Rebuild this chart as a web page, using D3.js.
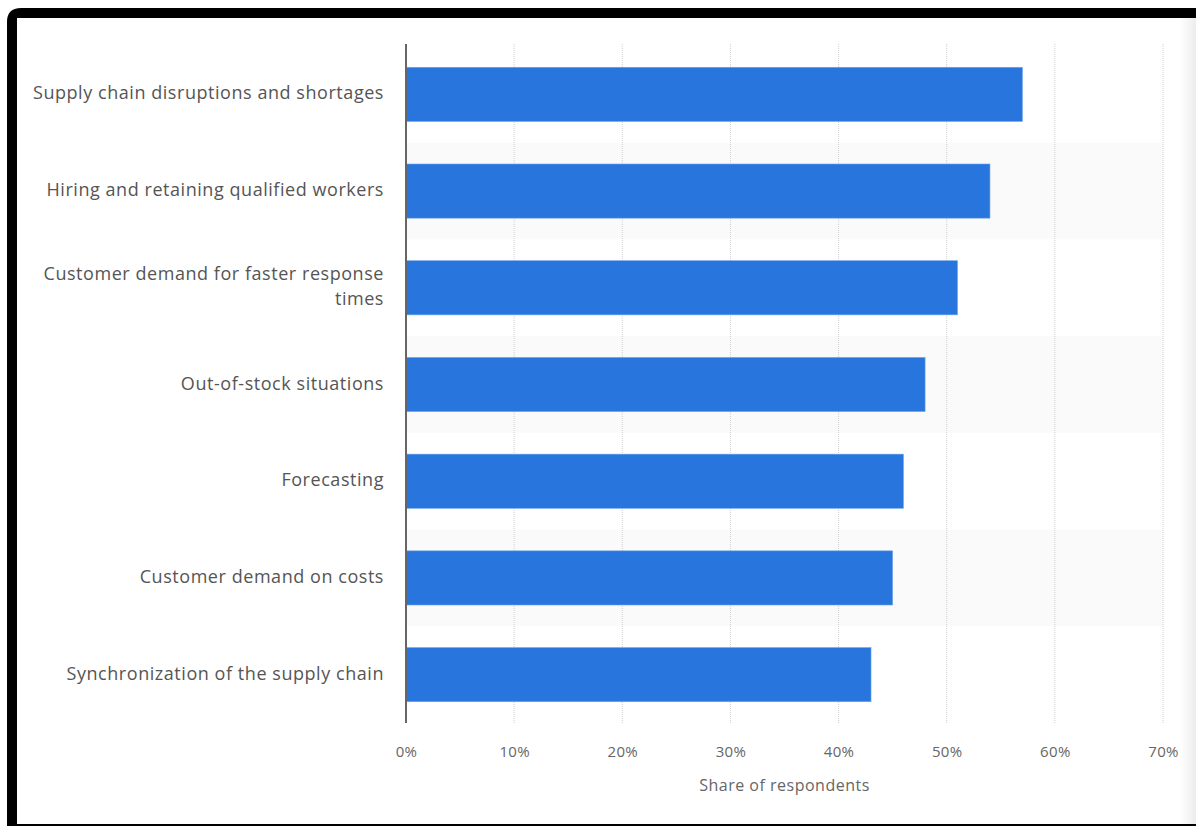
<!DOCTYPE html>
<html>
<head>
<meta charset="utf-8">
<script src="https://cdn.jsdelivr.net/npm/d3@7"></script>
<style>
  body { margin: 0; background: #fff; }
  svg { display: block; }
</style>
</head>
<body>
<div id="chart"></div>
<script>
const categories = [
  "Supply chain disruptions and shortages",
  "Hiring and retaining qualified workers",
  "Customer demand for faster response times",
  "Out-of-stock situations",
  "Forecasting",
  "Customer demand on costs",
  "Synchronization of the supply chain"
];
const shares = [57, 54, 51, 48, 46, 45, 43];
const tickValues = [0, 10, 20, 30, 40, 50, 60, 70];

const width = 1196, height = 826;
const margin = {top: 46, right: 33, bottom: 103, left: 406};

let svg = d3.select("#chart")
    .append("svg")
    .attr("width", width)
    .attr("height", height);

// soft grey edge on the right of the screenshot
let grad = svg.append("defs").append("linearGradient")
    .attr("id", "edge").attr("x1", 0).attr("x2", 1).attr("y1", 0).attr("y2", 0);
grad.append("stop").attr("offset", "0%").attr("stop-color", "#fff");
grad.append("stop").attr("offset", "100%").attr("stop-color", "#ececec");
svg.append("rect")
    .attr("x", 1180).attr("y", 18).attr("width", 16).attr("height", 806)
    .attr("fill", "url(#edge)");

// black frame round the screenshot
svg.append("path")
    .attr("d", "M7,826 L7,22 Q7,8 21,8 L1196,8 L1196,18 L17,18 L17,824 L1196,824 L1196,826 Z")
    .attr("fill", "#000");

let data = categories.map((c, i) => ({label: c, value: shares[i]}));

let g = svg.append("g")
    .attr("transform", `translate(${margin.left},${margin.top})`);

let plotH = height - margin.top - margin.bottom;

let x = d3.scaleLinear()
    .domain([0, 70])
    .range([0, 757]);

let y = d3.scaleBand()
    .domain(categories)
    .range([0, plotH])
    .paddingInner(0.44)
    .paddingOuter(0.22);

let rowBand = d3.scaleBand()
    .domain(categories)
    .range([0, plotH]);

// alternating row shading
g.selectAll("rect.band")
    .data(data.filter((d, i) => i % 2 === 1))
    .enter()
    .append("rect")
    .attr("class", "band")
    .attr("x", 0)
    .attr("y", d => rowBand(d.label))
    .attr("width", x(70))
    .attr("height", rowBand.bandwidth())
    .attr("fill", "#fafafa");

// dotted grid lines
g.selectAll("line.grid")
    .data(tickValues.slice(1))
    .enter()
    .append("line")
    .attr("class", "grid")
    .attr("x1", d => x(d)).attr("x2", d => x(d))
    .attr("y1", -2).attr("y2", plotH)
    .attr("stroke", "#d0d0d0")
    .attr("stroke-width", 1)
    .attr("stroke-dasharray", "1,1");

g.selectAll("rect.bar")
    .data(data)
    .enter()
    .append("rect")
    .attr("class", "bar")
    .attr("x", x(0))
    .attr("y", d => y(d.label))
    .attr("width", d => x(d.value))
    .attr("height", y.bandwidth())
    .attr("fill", "#2876dd")
    .attr("stroke", "#6ea4ea")
    .attr("stroke-width", 0.6);

// axis line
g.append("line")
    .attr("x1", 0).attr("x2", 0)
    .attr("y1", -2).attr("y2", plotH)
    .attr("stroke", "#666")
    .attr("stroke-width", 2);

// category labels (wrapped)
let labels = g.selectAll("text.cat")
    .data(data)
    .enter()
    .append("text")
    .attr("class", "cat")
    .attr("x", -22)
    .attr("y", d => y(d.label) + y.bandwidth() / 2)
    .style("text-anchor", "end")
    .style("font-family", "'Open Sans', sans-serif")
    .style("font-size", "18px")
    .style("letter-spacing", "0.55px")
    .style("fill", "#555");

labels.each(function(d) {
    let t = d3.select(this);
    let lines = d.label === "Customer demand for faster response times"
        ? ["Customer demand for faster response", "times"] : [d.label];
    let offset = -(lines.length - 1) * 12.5;
    lines.forEach((ln, i) => {
        t.append("tspan")
            .attr("x", -22)
            .attr("dy", i === 0 ? offset + 5 : 25)
            .text(ln);
    });
});

// x axis tick labels
let xAxis = g.append("g")
    .attr("transform", `translate(0,${plotH})`)
    .call(d3.axisBottom(x).tickValues(tickValues).tickSize(0).tickPadding(23)
        .tickFormat(d => d + "%"));
xAxis.select(".domain").remove();
xAxis.selectAll("text")
    .style("font-family", "'Open Sans', sans-serif")
    .style("font-size", "15px")
    .style("letter-spacing", "0.3px")
    .style("fill", "#666");

g.append("text")
    .attr("x", x(35))
    .attr("y", plotH + 68)
    .style("text-anchor", "middle")
    .style("font-family", "'Open Sans', sans-serif")
    .style("font-size", "16px")
    .style("letter-spacing", "0.5px")
    .style("fill", "#666")
    .text("Share of respondents");
</script>
</body>
</html>
